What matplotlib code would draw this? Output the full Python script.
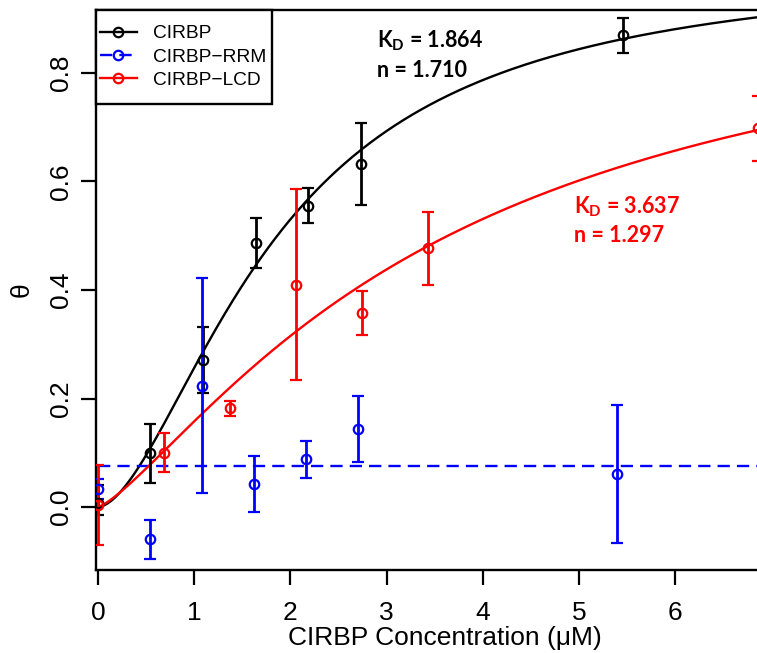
import numpy as np
import matplotlib
matplotlib.use("Agg")
import matplotlib.pyplot as plt
from matplotlib.lines import Line2D
from matplotlib.patches import Rectangle

plt.rcParams['font.family'] = ['Liberation Sans', 'DejaVu Sans']
plt.rcParams['mathtext.fontset'] = 'custom'
plt.rcParams['mathtext.bf'] = 'Lato:bold'
plt.rcParams['mathtext.rm'] = 'Lato:bold'
plt.rcParams['mathtext.it'] = 'Lato:bold'

# ---- data ----
cirbp_x = [0, 0.546, 1.092, 1.638, 2.184, 2.73, 5.46]
cirbp_y = [0.007, 0.099, 0.271, 0.487, 0.555, 0.632, 0.870]
cirbp_lo = [-0.015, 0.044, 0.210, 0.441, 0.524, 0.557, 0.837]
cirbp_hi = [0.040, 0.153, 0.332, 0.533, 0.588, 0.708, 0.901]

rrm_x = [0, 0.54, 1.08, 1.62, 2.16, 2.70, 5.40]
rrm_y = [0.033, -0.059, 0.223, 0.042, 0.088, 0.144, 0.061]
rrm_lo = [0.015, -0.095, 0.025, -0.009, 0.054, 0.083, -0.067]
rrm_hi = [0.052, -0.023, 0.422, 0.094, 0.122, 0.205, 0.188]

lcd_x = [0, 0.686, 1.372, 2.058, 2.744, 3.43, 6.86]
lcd_y = [0.004, 0.100, 0.182, 0.410, 0.357, 0.477, 0.698]
lcd_lo = [-0.070, 0.064, 0.168, 0.235, 0.317, 0.409, 0.638]
lcd_hi = [0.077, 0.136, 0.195, 0.586, 0.399, 0.543, 0.758]

cirbp_kd, cirbp_n = 1.864, 1.710
lcd_kd, lcd_n = 3.637, 1.297

series_names = ['CIRBP', 'CIRBP\u2212RRM', 'CIRBP\u2212LCD']
colors = ['black', '#0000FF', '#FF0000']
x_ticks = [0, 1, 2, 3, 4, 5, 6]
y_ticks = [0.0, 0.2, 0.4, 0.6, 0.8]

W, H = 757, 653
fig = plt.figure(figsize=(W / 100, H / 100), dpi=100)
ax = fig.add_axes([96 / W, (H - 570) / H, 694.6 / W, 560 / H])
ax.set_xlim(-0.02, 7.2)
ax.set_ylim(-0.116, 0.916)

lw_curve = 1.7
ebkw = dict(fmt='o', mfc='none', ms=6.8, mew=1.6, elinewidth=2.0,
            capsize=4.4, capthick=2.0, zorder=3)


def hill(x, kd, n):
    x = np.asarray(x, dtype=float)
    return x ** n / (kd ** n + x ** n)


xs = np.linspace(0, 7.2, 500)

# CIRBP
c = colors[0]
ax.plot(xs, hill(xs, cirbp_kd, cirbp_n), color=c, lw=lw_curve, zorder=2)
y = np.array(cirbp_y)
ax.errorbar(cirbp_x, y, yerr=[y - np.array(cirbp_lo), np.array(cirbp_hi) - y],
            mec=c, ecolor=c, **ebkw)

# RRM (horizontal line at mean)
c = colors[1]
dash = (5.2, 3.0)
ax.plot([0, 7.2], [np.mean(rrm_y)] * 2, color=c, lw=lw_curve, dashes=dash, zorder=2)
y = np.array(rrm_y)
ax.errorbar(rrm_x, y, yerr=[y - np.array(rrm_lo), np.array(rrm_hi) - y],
            mec=c, ecolor=c, **ebkw)

# LCD
c = colors[2]
ax.plot(xs, hill(xs, lcd_kd, lcd_n), color=c, lw=lw_curve, zorder=2)
y = np.array(lcd_y)
ax.errorbar(lcd_x, y, yerr=[y - np.array(lcd_lo), np.array(lcd_hi) - y],
            mec=c, ecolor=c, **ebkw)

# axes styling
for s in ['left', 'top', 'bottom']:
    ax.spines[s].set_linewidth(1.7)
    ax.spines[s].set_color('black')
ax.spines['right'].set_visible(False)

ax.set_xticks(x_ticks)
ax.set_xticklabels([str(t) for t in x_ticks])
ax.set_yticks(y_ticks)
ax.set_yticklabels([f'{t:.1f}' for t in y_ticks])
ax.tick_params(axis='both', direction='out', length=10.8, width=1.6,
               labelsize=19, color='black')
ax.tick_params(axis='x', pad=11.5)
ax.tick_params(axis='y', pad=6, labelrotation=90)
for lab in ax.get_yticklabels():
    lab.set_va('center')

fig.text(21.5 / W, 1 - 290 / H, '\u03b8', rotation=90, ha='center', va='center',
         fontsize=19)
fig.text(445 / W, (H - 645) / H, 'CIRBP Concentration (\u03bcM)', ha='center',
         va='baseline', fontsize=19)

# legend
handles = [
    Line2D([], [], color=colors[0], lw=lw_curve, marker='o', mfc='none', ms=6.8, mew=1.6),
    Line2D([], [], color=colors[1], lw=lw_curve, dashes=dash, marker='o', mfc='none', ms=6.8, mew=1.6),
    Line2D([], [], color=colors[2], lw=lw_curve, marker='o', mfc='none', ms=6.8, mew=1.6),
]
leg = ax.legend(handles, series_names, loc='upper left',
                bbox_to_anchor=(100 / W, 1 - 25 / H), bbox_transform=fig.transFigure,
                borderaxespad=0, borderpad=0, frameon=False,
                fontsize=13.8, handlelength=1.93, handletextpad=0.83,
                labelspacing=0.30, numpoints=1)
leg.set_zorder(5)
ax.add_patch(Rectangle((96 / W, 1 - 104 / H), 176 / W, 94 / H, transform=fig.transFigure,
                       fill=True, fc='white', ec='black', lw=1.7, zorder=4, clip_on=False))

# annotations
akw = dict(fontfamily='Lato', fontweight='bold', fontsize=15.5, va='baseline')
fig.text(377 / W, 1 - 47 / H, r'$\mathbf{K_D}$ = 1.864', color='black', **akw)
fig.text(377 / W, 1 - 77 / H, 'n = 1.710', color='black', **akw)
fig.text(574 / W, 1 - 213 / H, r'$\mathbf{K_D}$ = 3.637', color='#FF0000', **akw)
fig.text(574 / W, 1 - 242 / H, 'n = 1.297', color='#FF0000', **akw)

fig.savefig('out.png', dpi=100)
